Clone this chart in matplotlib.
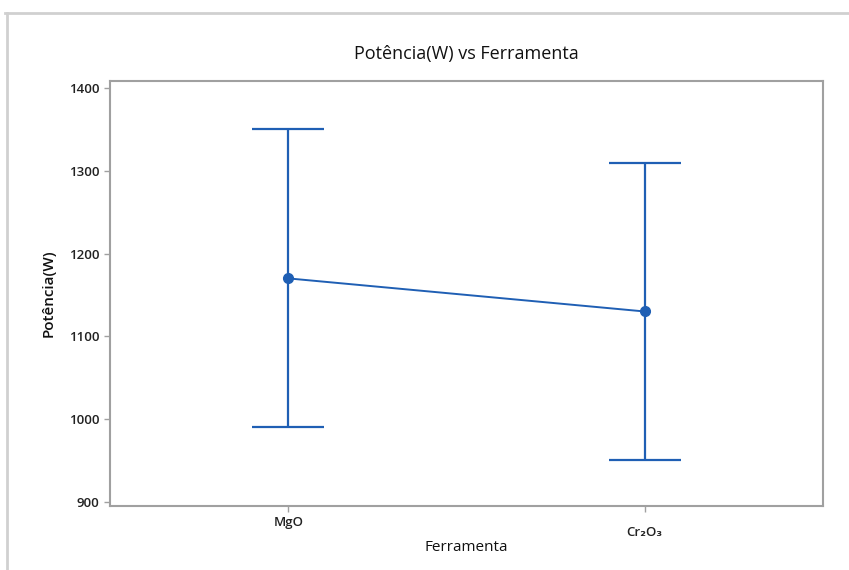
import matplotlib
matplotlib.use('Agg')
import matplotlib.pyplot as plt
from matplotlib.lines import Line2D
from matplotlib.transforms import ScaledTranslation

plt.rcParams['font.family'] = ['Open Sans', 'DejaVu Sans']

tools = ['MgO', 'Cr₂O₃']
means = [1170, 1130]
lower = [990, 950]
upper = [1350, 1310]
yticks = [900, 1000, 1100, 1200, 1300, 1400]

blue = '#1f5fb4'
grey = '#a0a0a0'

fig = plt.figure(figsize=(8.49, 5.70), dpi=100)
ax = fig.add_axes([0.1296, 0.1123, 0.8398, 0.7456])

x = list(range(len(tools)))
err = [[m - lo for m, lo in zip(means, lower)], [up - m for m, up in zip(means, upper)]]
ax.errorbar(x, means, yerr=err, fmt='none', ecolor=blue, elinewidth=1.6,
            capsize=26, capthick=1.6)
ax.plot(x, means, color=blue, lw=1.4, marker='o', markersize=7, zorder=3)

ax.set_xlim(-0.5, 1.5)
ax.set_ylim(895, 1408.5)
ax.set_xticks(x)
ax.set_xticklabels(tools)
ax.set_yticks(yticks)

for s in ax.spines.values():
    s.set_color(grey)
    s.set_linewidth(1.5)
ax.tick_params(colors=grey, length=4, width=1, labelsize=9.5, labelcolor='#222222')
for lbl in ax.get_xticklabels() + ax.get_yticklabels():
    lbl.set_fontweight('semibold')

# the subscripted label sits a little lower
xl = ax.get_xticklabels()[1]
xl.set_transform(xl.get_transform() + ScaledTranslation(0, -10 / 100, fig.dpi_scale_trans))

ax.set_title('Potência(W) vs Ferramenta', fontsize=13, pad=16, color='#111111')
ax.set_xlabel('Ferramenta', fontsize=11, color='#111111', va='center')
ax.xaxis.set_label_coords(0.5, -0.0965)
ax.set_ylabel('Potência(W)', fontsize=11, labelpad=10, color='#111111',
              fontweight='semibold')

# outer frame lines at top and left
fig.add_artist(Line2D([5 / 849, 1], [1 - 13 / 570, 1 - 13 / 570], color='#d0d0d0', lw=2))
fig.add_artist(Line2D([7 / 849, 7 / 849], [0, 1 - 13 / 570], color='#d0d0d0', lw=2))

fig.savefig('out.png', dpi=100)
